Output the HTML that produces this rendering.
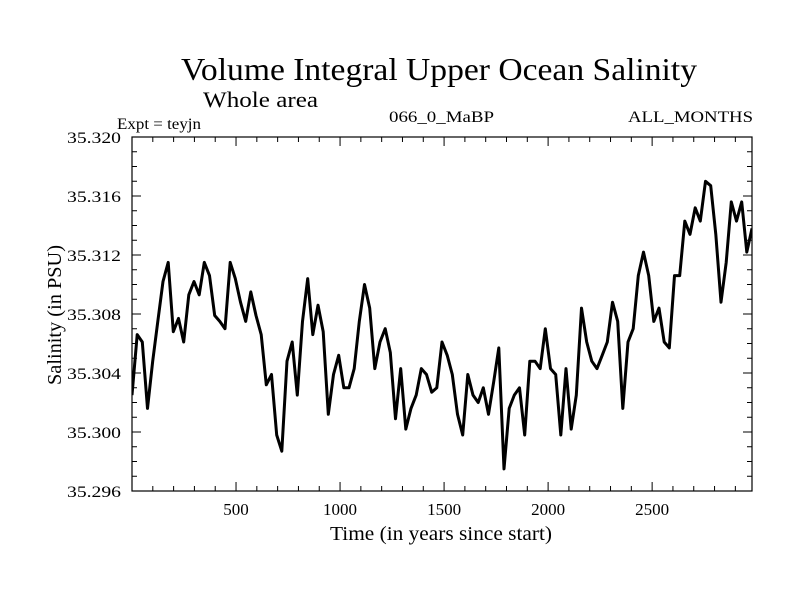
<!DOCTYPE html>
<html><head><meta charset="utf-8"><style>
html,body{margin:0;padding:0;background:#fff;}
svg{display:block;font-family:"Liberation Serif",serif;}
</style></head><body>
<svg id="chart" width="800" height="600" viewBox="0 0 800 600">
<rect x="0" y="0" width="800" height="600" fill="#fff"/>
<text x="181" y="80" font-size="32" textLength="516" lengthAdjust="spacingAndGlyphs">Volume Integral Upper Ocean Salinity</text>
<text x="203" y="107" font-size="22" textLength="115" lengthAdjust="spacingAndGlyphs">Whole area</text>
<text x="117" y="129" font-size="16" textLength="84" lengthAdjust="spacingAndGlyphs">Expt = teyjn</text>
<text x="389" y="122" font-size="16" textLength="105" lengthAdjust="spacingAndGlyphs">066_0_MaBP</text>
<text x="628" y="122" font-size="16" textLength="125" lengthAdjust="spacingAndGlyphs">ALL_MONTHS</text>
<text x="441" y="540" font-size="20" text-anchor="middle" textLength="222" lengthAdjust="spacingAndGlyphs">Time (in years since start)</text>
<text transform="translate(61,315) rotate(-90)" font-size="20" text-anchor="middle" textLength="140" lengthAdjust="spacingAndGlyphs">Salinity (in PSU)</text>
<defs><clipPath id="pc"><rect x="132" y="137" width="620" height="354"/></clipPath></defs>
<g id="axes"></g>
<path id="series" clip-path="url(#pc)" fill="none" stroke="#000" stroke-width="3" stroke-linejoin="round"/>
</svg>
<script>
const salinity=[35.3025,35.3066,35.3061,35.3016,35.3048,35.3075,35.3102,35.3115,35.3068,35.3077,35.3061,35.3093,35.3102,35.3093,35.3115,35.3106,35.3079,35.3075,35.3070,35.3115,35.3104,35.3088,35.3075,35.3095,35.3079,35.3066,35.3032,35.3039,35.2998,35.2987,35.3048,35.3061,35.3025,35.3075,35.3104,35.3066,35.3086,35.3068,35.3012,35.3039,35.3052,35.3030,35.3030,35.3043,35.3075,35.3100,35.3084,35.3043,35.3061,35.3070,35.3054,35.3009,35.3043,35.3002,35.3016,35.3025,35.3043,35.3039,35.3027,35.3030,35.3061,35.3052,
35.3039,35.3012,35.2998,35.3039,35.3025,35.3020,35.3030,35.3012,35.3034,35.3057,35.2975,35.3016,35.3025,35.3030,35.2998,35.3048,35.3048,35.3043,35.3070,35.3043,35.3039,35.2998,35.3043,35.3002,35.3025,35.3084,35.3061,35.3048,35.3043,35.3052,35.3061,35.3088,35.3075,35.3016,35.3061,35.3070,35.3106,35.3122,35.3106,35.3075,35.3084,35.3061,35.3057,35.3106,35.3106,35.3143,35.3134,35.3152,35.3143,35.3170,35.3167,35.3134,35.3088,35.3115,35.3156,35.3143,35.3156,35.3122,35.3138];
const yearStart=0, yearEnd=2980;
const xTicks=[500,1000,1500,2000,2500];
const xTickLabels=["500","1000","1500","2000","2500"];
const yTicks=[35.296,35.300,35.304,35.308,35.312,35.316,35.320];
const yTickLabels=["35.296","35.300","35.304","35.308","35.312","35.316","35.320"];
const L=132,R=752,T=137,B=491,ymin=35.296,ymax=35.320;
const X=v=>L+(v-yearStart)/(yearEnd-yearStart)*(R-L);
const Y=v=>B-(v-ymin)/(ymax-ymin)*(B-T);
const ns="http://www.w3.org/2000/svg";
const ax=document.getElementById('axes');
function mk(t,a){const e=document.createElementNS(ns,t);for(const k in a)e.setAttribute(k,a[k]);ax.appendChild(e);return e;}
const fr=mk('rect',{x:L,y:T,width:R-L,height:B-T,fill:'none',stroke:'#000','stroke-width':1.2});


let d='';
for(let yr=100;yr<yearEnd;yr+=100){const x=X(yr),len=(yr%500===0)?9:5;d+=`M${x} ${B}v${-len}M${x} ${T}v${len}`;}
for(let k=0;k<=24;k++){const v=ymin+k*0.001,y=Y(v),len=(k%4===0)?9:5;d+=`M${L} ${y}h${len}M${R} ${y}h${-len}`;}
const tk=mk('path',{d:d,stroke:'#000','stroke-width':1,fill:'none'});


xTicks.forEach((v,i)=>{const t=mk('text',{x:X(v),y:515,'font-size':17,'text-anchor':'middle'});t.textContent=xTickLabels[i];

});
yTicks.forEach((v,i)=>{const t=mk('text',{x:67,y:Y(v)+6,'font-size':16,textLength:54,lengthAdjust:'spacingAndGlyphs'});t.textContent=yTickLabels[i];

});
const step=(yearEnd-yearStart)/(salinity.length-1);
document.getElementById('series').setAttribute('d',salinity.map((v,i)=>(i?'L':'M')+X(yearStart+i*step).toFixed(1)+' '+Y(v).toFixed(1)).join(''));
</script>
</body></html>
